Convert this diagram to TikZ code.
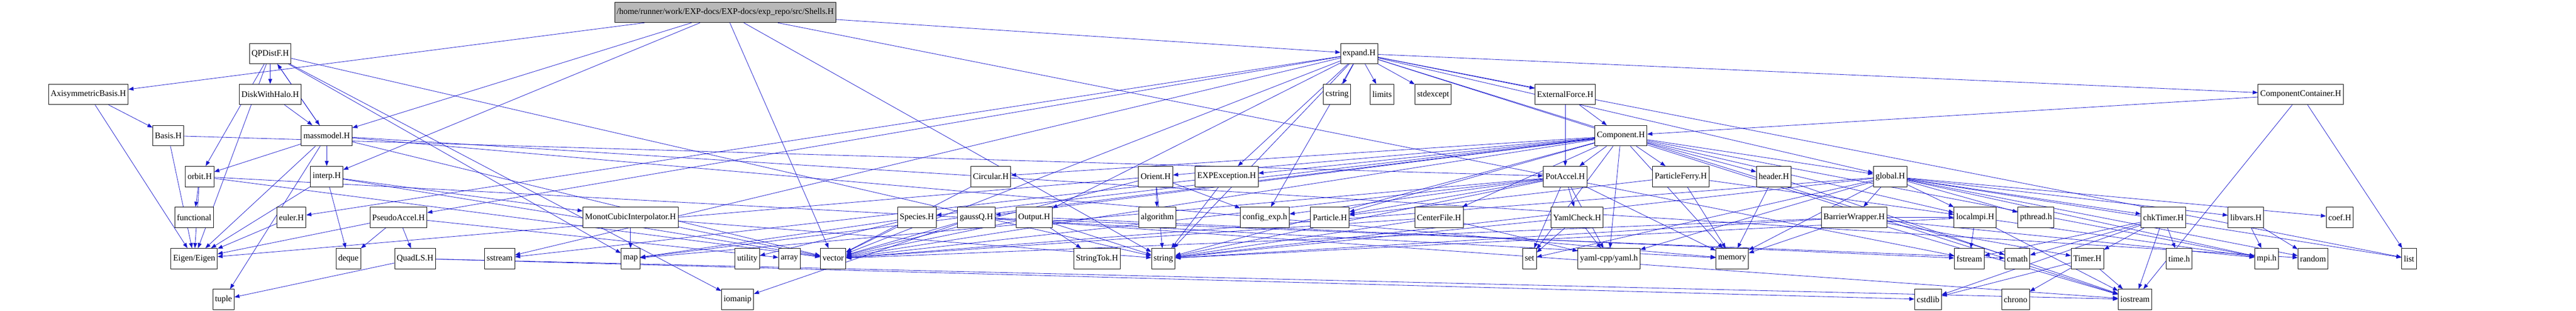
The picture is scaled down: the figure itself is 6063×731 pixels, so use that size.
\documentclass[tikz,border=0pt]{standalone}
\usepackage{fontspec}
\setmainfont{Liberation Serif}
\usetikzlibrary{arrows.meta}
\pgfdeclarelayer{bg}
\pgfsetlayers{bg,main}
\definecolor{edge}{RGB}{24,24,205}
\tikzset{
  box/.style={draw=black, line width=1.2pt, fill=white, minimum height=48pt, inner xsep=5pt, font=\fontsize{20}{22}\selectfont},
  root/.style={box, fill=gray!55},
  dep/.style={draw=edge, line width=1pt, -{Triangle[length=12pt,width=9pt]}},
}
\begin{document}
\begin{tikzpicture}[x=1pt,y=1pt]
\useasboundingbox (0,0) rectangle (6063,-731);
% row 0
\node[root] (shells) at (1707,-29) {/home/runner/work/EXP-docs/EXP-docs/exp\_repo/src/Shells.H};
% row 1
\node[box] (qpd) at (636,-126) {QPDistF.H};
\node[box] (expand) at (3199,-126) {expand.H};
% row 2
\node[box] (axi) at (208,-222) {AxisymmetricBasis.H};
\node[box] (disk) at (636,-222) {DiskWithHalo.H};
\node[box] (cstring) at (3147,-222) {cstring};
\node[box] (limits) at (3253,-222) {limits};
\node[box] (stdexc) at (3373,-222) {stdexcept};
\node[box] (extf) at (3684,-222) {ExternalForce.H};
\node[box] (compc) at (5415,-222) {ComponentContainer.H};
% row 3
\node[box] (basis) at (396,-319) {Basis.H};
\node[box] (mass) at (769,-319) {massmodel.H};
\node[box] (comp) at (3815,-319) {Component.H};
% row 4
\node[box] (orbit) at (470,-415) {orbit.H};
\node[box] (interp) at (769,-415) {interp.H};
\node[box] (circ) at (2332,-415) {Circular.H};
\node[box] (orient) at (2720,-415) {Orient.H};
\node[box] (expexc) at (2887,-415) {EXPException.H};
\node[box] (pot) at (3684,-415) {PotAccel.H};
\node[box] (ferry) at (3956,-415) {ParticleFerry.H};
\node[box] (header) at (4175,-415) {header.H};
\node[box] (global) at (4449,-415) {global.H};
% row 5
\node[box] (func) at (457,-511) {functional};
\node[box] (euler) at (686,-511) {euler.H};
\node[box] (pseudo) at (938,-511) {PseudoAccel.H};
\node[box] (monot) at (1484,-511) {MonotCubicInterpolator.H};
\node[box] (species) at (2158,-511) {Species.H};
\node[box] (gauss) at (2298,-511) {gaussQ.H};
\node[box] (output) at (2434,-511) {Output.H};
\node[box] (algo) at (2724,-511) {algorithm};
\node[box] (config) at (2977,-511) {config\_exp.h};
\node[box] (particle) at (3130,-511) {Particle.H};
\node[box] (center) at (3387,-511) {CenterFile.H};
\node[box] (yamlc) at (3712,-511) {YamlCheck.H};
\node[box] (barrier) at (4364,-511) {BarrierWrapper.H};
\node[box] (localmpi) at (4649,-511) {localmpi.H};
\node[box] (pthread) at (4792,-511) {pthread.h};
\node[box] (chk) at (5092,-511) {chkTimer.H};
\node[box] (libvars) at (5286,-511) {libvars.H};
\node[box] (coef) at (5507,-511) {coef.H};
% row 6
\node[box] (eigen) at (457,-608) {Eigen/Eigen};
\node[box] (deque) at (820,-608) {deque};
\node[box] (quad) at (977,-608) {QuadLS.H};
\node[box] (sstream) at (1176,-608) {sstream};
\node[box] (map) at (1484,-608) {map};
\node[box] (utility) at (1759,-608) {utility};
\node[box] (array) at (1858,-608) {array};
\node[box] (vector) at (1961,-608) {vector};
\node[box] (stok) at (2582,-608) {StringTok.H};
\node[box] (string) at (2738,-608) {string};
\node[box] (set) at (3600,-608) {set};
\node[box] (yaml) at (3787,-608) {yaml-cpp/yaml.h};
\node[box] (memory) at (4077,-608) {memory};
\node[box] (fstream) at (4635,-608) {fstream};
\node[box] (cmath) at (4748,-608) {cmath};
\node[box] (timer) at (4913,-608) {Timer.H};
\node[box] (timeh) at (5129,-608) {time.h};
\node[box] (mpi) at (5335,-608) {mpi.h};
\node[box] (random) at (5444,-608) {random};
\node[box] (list) at (5670,-608) {list};
% row 7
\node[box] (tuple) at (526,-704) {tuple};
\node[box] (iomanip) at (1736,-704) {iomanip};
\node[box] (cstdlib) at (4538,-704) {cstdlib};
\node[box] (chrono) at (4744,-704) {chrono};
\node[box] (iostream) at (5025,-704) {iostream};

\begin{pgfonlayer}{bg}
\foreach \a/\b in {
 shells/expand, shells/axi, shells/mass, shells/interp, shells/vector, shells/string, shells/fstream,
 qpd/disk, qpd/mass, qpd/orbit, qpd/eigen, qpd/iomanip, qpd/map, qpd/string,
 axi/basis, axi/eigen, basis/eigen, basis/pot, disk/mass,
 mass/qpd, mass/orbit, mass/interp, mass/eigen, mass/tuple, mass/memory, mass/random, mass/vector,
 orbit/func, orbit/eigen, orbit/vector, orbit/memory,
 interp/deque, interp/eigen, interp/monot, interp/vector,
 euler/eigen, pseudo/eigen, pseudo/deque, pseudo/quad, pseudo/array,
 quad/tuple, quad/iostream, quad/cstdlib,
 monot/map, monot/vector, monot/string,
 circ/vector, orient/algo, orient/config, orient/vector, orient/eigen, orient/string,
 expexc/string, expexc/sstream,
 species/map, species/vector, species/utility,
 gauss/vector, gauss/iomanip, gauss/iostream, gauss/cmath,
 output/stok, output/string, output/vector, output/fstream,
 expand/cstring, expand/limits, expand/stdexc, expand/extf, expand/compc, expand/global,
 expand/output, expand/expexc, expand/config, expand/string, expand/vector, expand/sstream,
 expand/iostream, expand/list, expand/cmath, expand/euler, expand/pseudo,
 compc/comp, compc/list, compc/iostream,
 extf/pot, extf/comp,
 comp/pot, comp/ferry, comp/header, comp/global, comp/expexc, comp/orient, comp/circ, comp/particle,
 comp/yaml, comp/memory, comp/localmpi, comp/mpi, comp/set, comp/string, comp/vector, comp/map,
 comp/species, comp/gauss, comp/center,
 pot/yamlc, pot/yaml, pot/memory, pot/set, pot/particle, pot/config, pot/vector, pot/map, pot/string,
 ferry/particle, ferry/memory, ferry/localmpi,
 header/memory, header/iostream,
 global/barrier, global/localmpi, global/pthread, global/chk, global/libvars, global/coef, global/memory,
 global/yaml, global/set, global/mpi, global/random, global/list, global/string, global/vector,
 barrier/memory, barrier/mpi, barrier/timer, barrier/localmpi, barrier/string, barrier/vector, barrier/iostream,
 yamlc/set, yamlc/yaml, yamlc/string,
 center/yaml, center/string, center/vector,
 localmpi/fstream, localmpi/mpi, localmpi/iostream, localmpi/string,
 chk/timer, chk/timeh, chk/iostream, chk/cmath, chk/cstdlib, chk/fstream,
 libvars/mpi, libvars/random,
 timer/cstdlib, timer/chrono, timer/iostream}
 { \draw[dep] (\a) -- (\b); }
\end{pgfonlayer}
\end{tikzpicture}
\end{document}
